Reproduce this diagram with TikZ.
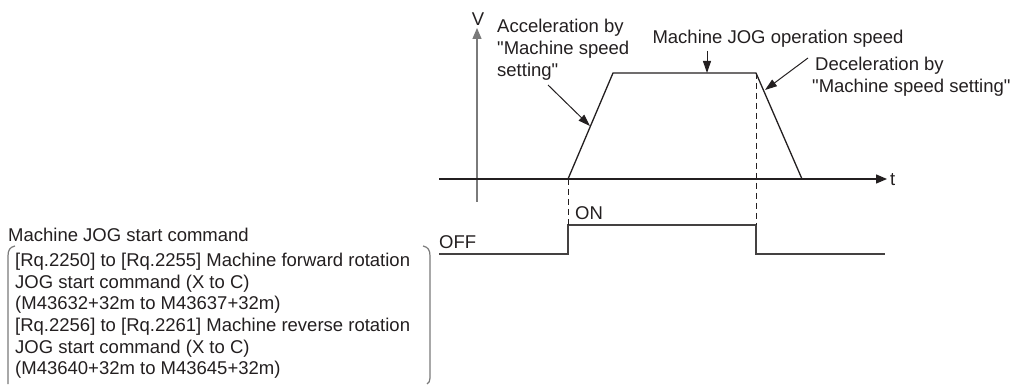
\documentclass[tikz,border=0pt]{standalone}
\usepackage{fontspec}
\setmainfont{Liberation Sans}[Ligatures=TeXOff]
\usepackage{xcolor}
\usetikzlibrary{arrows.meta, positioning}
\definecolor{ink}{HTML}{231F20}
\definecolor{axisgray}{HTML}{7A7A7A}

\begin{document}
\begin{tikzpicture}[
			x=1pt, y=-1pt,
			font=\fontsize{18.5}{22}\selectfont,
			txt/.style={inner sep=0pt, text=ink, align=left},
			ln/.style={draw=ink, line width=1.3pt},
			sig/.style={draw=ink!85, line width=1.5pt},
			guide/.style={draw=ink, line width=1pt, dash pattern=on 6pt off 4pt},
			arr/.style={-{Triangle[length=12pt, width=8pt]}, draw=ink, line width=1pt},
			axarr/.style={-{Triangle[length=11pt, width=9pt]}, line width=1.3pt}
			]
			\useasboundingbox (0,0) rectangle (1010,385);
			
			% speed profile
			\coordinate (tstart) at (439,179);
			\coordinate (tend) at (887,179);
			\coordinate (vbot) at (477,202);
			\coordinate (vtop) at (477,28);
			\coordinate (acc0) at (568,179);
			\coordinate (acc1) at (613,73);
			\coordinate (dec0) at (756,73);
			\coordinate (dec1) at (802,179);
			
			\draw[axarr, draw=axisgray] (vbot) -- (vtop);
			\draw[axarr, draw=ink] (tstart) -- (tend);
			\node[txt, anchor=center] (vlbl) at (478,19) {V};
			\node[txt, anchor=west] (tlbl) at (890,180) {t};
			
			\draw[ln] (acc0) -- (acc1) -- (dec0) -- (dec1);
			
			% start command signal
			\coordinate (s0) at (439,254);
			\coordinate (son) at (568,225);
			\coordinate (soff) at (756,225);
			\coordinate (s1) at (885,254);
			
			\draw[sig] (s0) -- (acc0 |- s0) -- (son) -- (soff) -- (soff |- s1) -- (s1);
			\draw[guide] (acc0) -- (son);
			\draw[guide] (dec0) -- (soff);
			
			\node[txt, anchor=west] (on) at (575,213) {ON};
			\node[txt, anchor=west] (off) at (439,242) {OFF};
			
			% labels with arrows
			\node[txt, anchor=west] (acc) at (497,50) {Acceleration by\\"Machine speed\\setting"};
			\node[txt, anchor=center] (spd) at (778,39) {Machine JOG operation speed};
			\node[txt, anchor=west] (dec) at (812,77) {\hspace{3pt}Deceleration by\\"Machine speed setting"};
			
			\coordinate (acctail) at (548,85);
			\coordinate (acctip) at (590,126);
			\coordinate (spdtip) at (707,73);
			\coordinate (dectail) at (808,58);
			\coordinate (dectip) at (765,90);
			
			\draw[arr] (acctail) -- (acctip);
			\draw[arr] (spdtip |- spd.south) ++(0,3) -- (spdtip);
			\draw[arr] (dectail) -- (dectip);
			
			% command description
			\node[txt, anchor=west] (cmd) at (8,235) {Machine JOG start command};
			\node[txt, anchor=west, font=\fontsize{18.5}{21.6}\selectfont] (cmdlist) at (15,316)
			{{}[Rq.2250] to [Rq.2255] Machine forward rotation\\{}%
				JOG start command (X to C)\\{}%
				(M43632+32m to M43637+32m)\\{}%
				[Rq.2256] to [Rq.2261] Machine reverse rotation\\{}%
				JOG start command (X to C)\\{}%
				(M43640+32m to M43645+32m)};
			
			\draw[draw=axisgray, line width=1.2pt] (15,246) .. controls (10,247) and (8,250) .. (8,256) -- (8,384);
			\draw[draw=axisgray, line width=1.2pt] (423,246) .. controls (428,247) and (430,250) .. (430,256) -- (430,378) .. controls (430,381) and (429,383) .. (427,384);
			
		\end{tikzpicture}
\end{document}
